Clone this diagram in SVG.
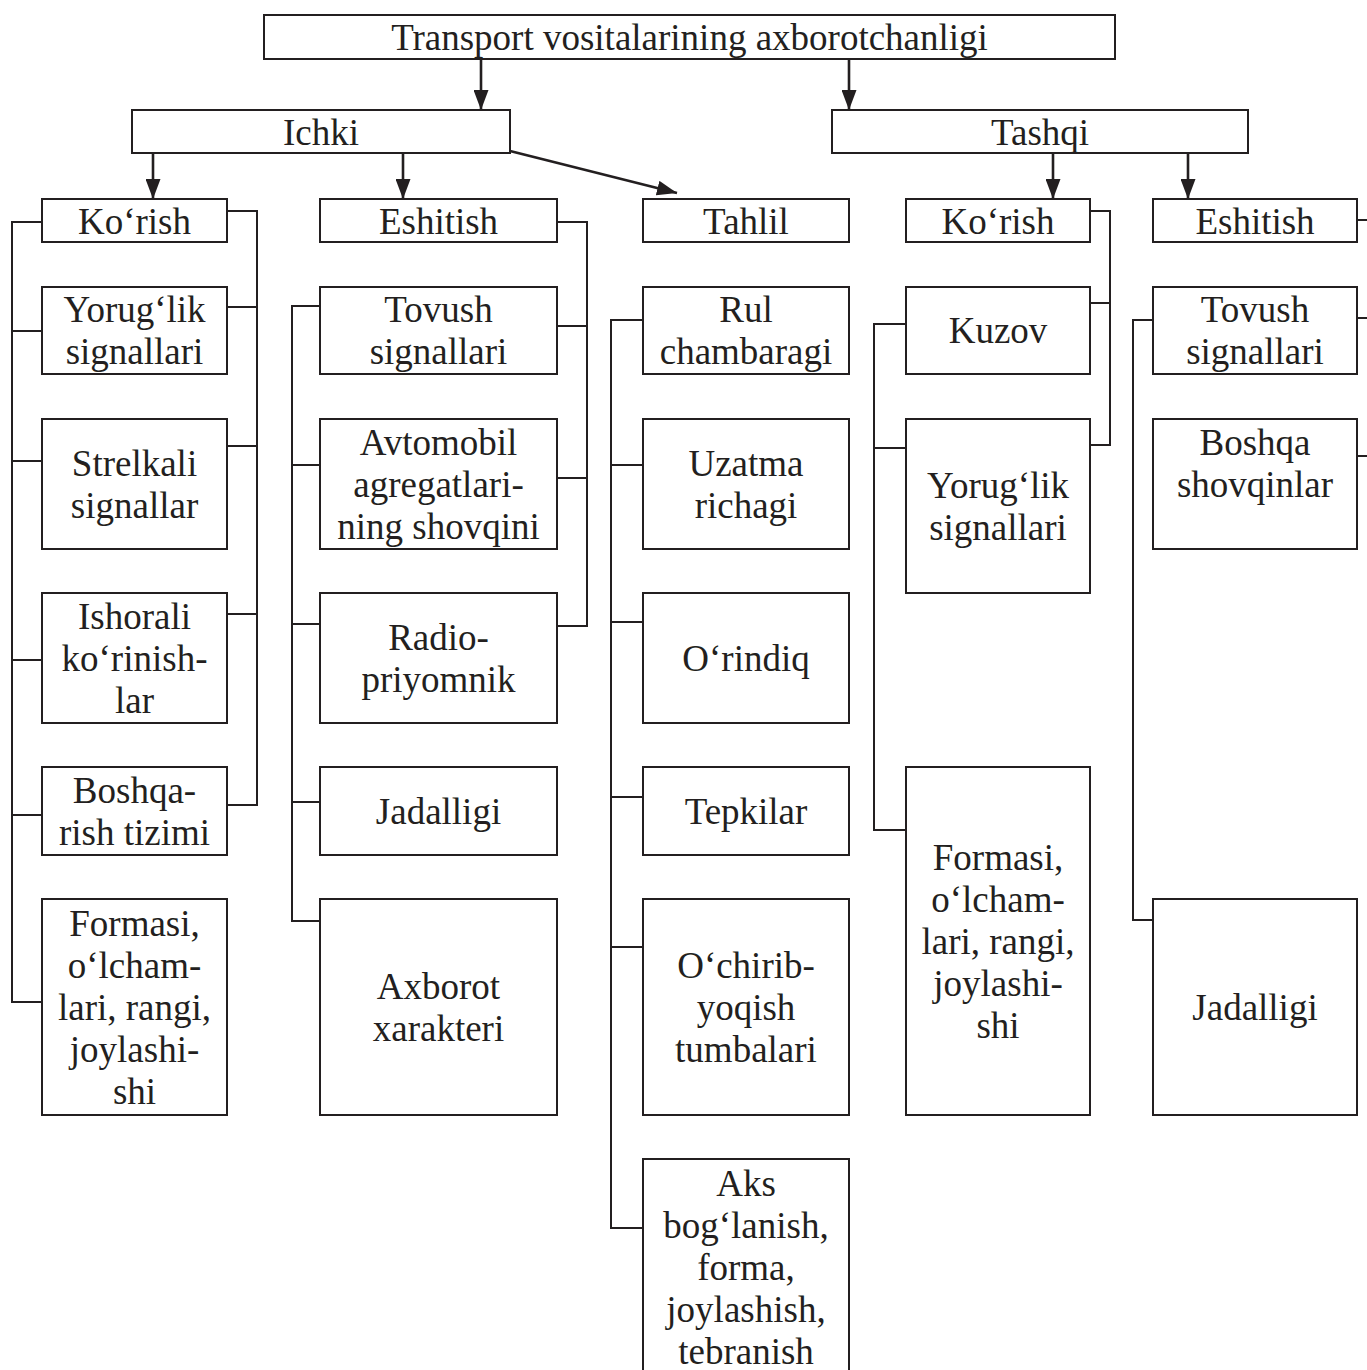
<svg xmlns="http://www.w3.org/2000/svg" width="1367" height="1370" viewBox="0 0 1367 1370">
<style>
.box{fill:#fff;stroke:#231f20;stroke-width:2}
.t{font-family:"Liberation Serif","Times New Roman",serif;font-size:37px;fill:#231f20;text-anchor:middle}
.c{fill:none;stroke:#231f20;stroke-width:2}
.a{fill:none;stroke:#231f20;stroke-width:2.6;marker-end:url(#ah)}
</style>
<defs>
<marker id="ah" markerUnits="userSpaceOnUse" markerWidth="20" markerHeight="15" refX="20" refY="7.5" orient="auto">
<path d="M0,0 L20,7.5 L0,15 z" fill="#231f20"/>
</marker>
</defs>
<rect width="1367" height="1370" fill="#fff"/>
<g id="connectors">
<path class="a" d="M481,59 V110"/>
<path class="a" d="M849,59 V110"/>
<path class="a" d="M153,153 V199"/>
<path class="a" d="M403,153 V199"/>
<path class="a" d="M510,151 L677,193"/>
<path class="a" d="M1053,153 V199"/>
<path class="a" d="M1188,153 V199"/>
<path class="c" d="M42,222 H12 V1002 H42 M12,331 H42 M12,461 H42 M12,660 H42 M12,815 H42"/>
<path class="c" d="M227,211 H257 V805 H227 M227,307 H257 M227,446 H257 M227,614 H257"/>
<path class="c" d="M557,222 H587 V626 H557 M557,326 H587 M557,478 H587"/>
<path class="c" d="M320,306 H292 V921 H320 M292,465 H320 M292,624 H320 M292,802 H320"/>
<path class="c" d="M643,320 H611 V1228 H643 M611,465 H643 M611,622 H643 M611,797 H643 M611,947 H643"/>
<path class="c" d="M1090,211 H1110 V445 H1090 M1090,303 H1110"/>
<path class="c" d="M906,324 H874 V830 H906 M874,448 H906"/>
<path class="c" d="M1153,320 H1133 V920 H1153"/>
<path class="c" d="M1357,220 H1367 M1357,318 H1367 M1357,456 H1367"/>
</g>
<g id="n-title"><rect class="box" x="264" y="15" width="851" height="44"/><text class="t" x="689.5" y="50">Transport vositalarining axborotchanligi</text></g>
<g id="n-ichki"><rect class="box" x="132" y="110" width="378" height="43"/><text class="t" x="321" y="145">Ichki</text></g>
<g id="n-tashqi"><rect class="box" x="832" y="110" width="416" height="43"/><text class="t" x="1040" y="145">Tashqi</text></g>

<g id="n-korish1"><rect class="box" x="42" y="199" width="185" height="43"/><text class="t" x="134.5" y="234">Ko‘rish</text></g>
<g id="n-eshitish1"><rect class="box" x="320" y="199" width="237" height="43"/><text class="t" x="438.5" y="234">Eshitish</text></g>
<g id="n-tahlil"><rect class="box" x="643" y="199" width="206" height="43"/><text class="t" x="746" y="234">Tahlil</text></g>
<g id="n-korish2"><rect class="box" x="906" y="199" width="184" height="43"/><text class="t" x="998" y="234">Ko‘rish</text></g>
<g id="n-eshitish2"><rect class="box" x="1153" y="199" width="204" height="43"/><text class="t" x="1255" y="234">Eshitish</text></g>

<g id="n-c1-1"><rect class="box" x="42" y="287" width="185" height="87"/><text class="t" x="134.5" y="322">Yorug‘lik<tspan x="134.5" dy="42">signallari</tspan></text></g>
<g id="n-c1-2"><rect class="box" x="42" y="419" width="185" height="130"/><text class="t" x="134.5" y="476">Strelkali<tspan x="134.5" dy="42">signallar</tspan></text></g>
<g id="n-c1-3"><rect class="box" x="42" y="593" width="185" height="130"/><text class="t" x="134.5" y="629">Ishorali<tspan x="134.5" dy="42">ko‘rinish-</tspan><tspan x="134.5" dy="42">lar</tspan></text></g>
<g id="n-c1-4"><rect class="box" x="42" y="767" width="185" height="88"/><text class="t" x="134.5" y="803">Boshqa-<tspan x="134.5" dy="42">rish tizimi</tspan></text></g>
<g id="n-c1-5"><rect class="box" x="42" y="899" width="185" height="216"/><text class="t" x="134.5" y="936">Formasi,<tspan x="134.5" dy="42">o‘lcham-</tspan><tspan x="134.5" dy="42">lari, rangi,</tspan><tspan x="134.5" dy="42">joylashi-</tspan><tspan x="134.5" dy="42">shi</tspan></text></g>

<g id="n-c2-1"><rect class="box" x="320" y="287" width="237" height="87"/><text class="t" x="438.5" y="322">Tovush<tspan x="438.5" dy="42">signallari</tspan></text></g>
<g id="n-c2-2"><rect class="box" x="320" y="419" width="237" height="130"/><text class="t" x="438.5" y="455">Avtomobil<tspan x="438.5" dy="42">agregatlari-</tspan><tspan x="438.5" dy="42">ning shovqini</tspan></text></g>
<g id="n-c2-3"><rect class="box" x="320" y="593" width="237" height="130"/><text class="t" x="438.5" y="650">Radio-<tspan x="438.5" dy="42">priyomnik</tspan></text></g>
<g id="n-c2-4"><rect class="box" x="320" y="767" width="237" height="88"/><text class="t" x="438.5" y="824">Jadalligi</text></g>
<g id="n-c2-5"><rect class="box" x="320" y="899" width="237" height="216"/><text class="t" x="438.5" y="999">Axborot<tspan x="438.5" dy="42">xarakteri</tspan></text></g>

<g id="n-c3-1"><rect class="box" x="643" y="287" width="206" height="87"/><text class="t" x="746" y="322">Rul<tspan x="746" dy="42">chambaragi</tspan></text></g>
<g id="n-c3-2"><rect class="box" x="643" y="419" width="206" height="130"/><text class="t" x="746" y="476">Uzatma<tspan x="746" dy="42">richagi</tspan></text></g>
<g id="n-c3-3"><rect class="box" x="643" y="593" width="206" height="130"/><text class="t" x="746" y="671">O‘rindiq</text></g>
<g id="n-c3-4"><rect class="box" x="643" y="767" width="206" height="88"/><text class="t" x="746" y="824">Tepkilar</text></g>
<g id="n-c3-5"><rect class="box" x="643" y="899" width="206" height="216"/><text class="t" x="746" y="978">O‘chirib-<tspan x="746" dy="42">yoqish</tspan><tspan x="746" dy="42">tumbalari</tspan></text></g>
<g id="n-c3-6"><rect class="box" x="643" y="1159" width="206" height="216"/><text class="t" x="746" y="1196">Aks<tspan x="746" dy="42">bog‘lanish,</tspan><tspan x="746" dy="42">forma,</tspan><tspan x="746" dy="42">joylashish,</tspan><tspan x="746" dy="42">tebranish</tspan></text></g>

<g id="n-c4-1"><rect class="box" x="906" y="287" width="184" height="87"/><text class="t" x="998" y="343">Kuzov</text></g>
<g id="n-c4-2"><rect class="box" x="906" y="419" width="184" height="174"/><text class="t" x="998" y="498">Yorug‘lik<tspan x="998" dy="42">signallari</tspan></text></g>
<g id="n-c4-3"><rect class="box" x="906" y="767" width="184" height="348"/><text class="t" x="998" y="870">Formasi,<tspan x="998" dy="42">o‘lcham-</tspan><tspan x="998" dy="42">lari, rangi,</tspan><tspan x="998" dy="42">joylashi-</tspan><tspan x="998" dy="42">shi</tspan></text></g>

<g id="n-c5-1"><rect class="box" x="1153" y="287" width="204" height="87"/><text class="t" x="1255" y="322">Tovush<tspan x="1255" dy="42">signallari</tspan></text></g>
<g id="n-c5-2"><rect class="box" x="1153" y="419" width="204" height="130"/><text class="t" x="1255" y="455">Boshqa<tspan x="1255" dy="42">shovqinlar</tspan></text></g>
<g id="n-c5-3"><rect class="box" x="1153" y="899" width="204" height="216"/><text class="t" x="1255" y="1020">Jadalligi</text></g>
</svg>
